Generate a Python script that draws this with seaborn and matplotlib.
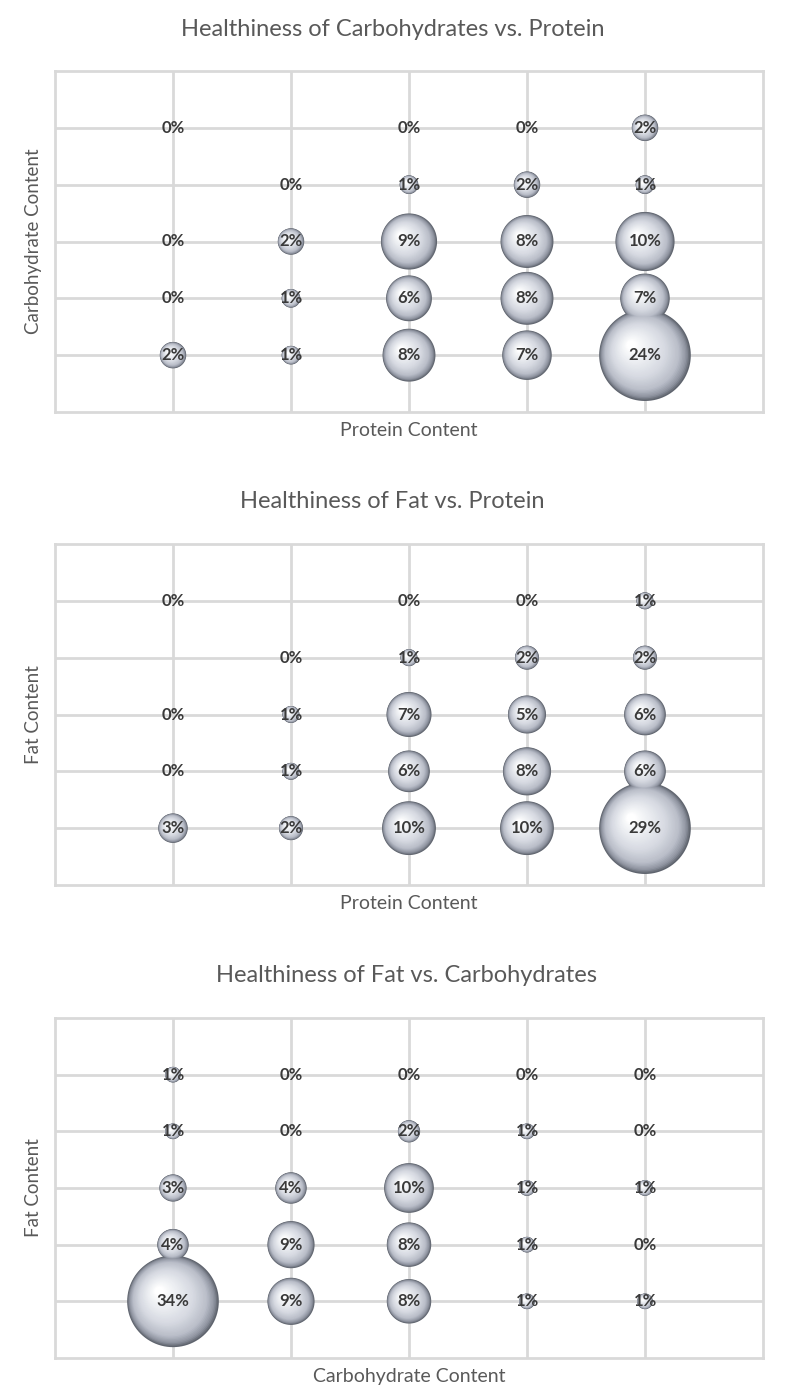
import numpy as np
import pandas as pd
import matplotlib
matplotlib.use("Agg")
import matplotlib.pyplot as plt
from matplotlib.path import Path
from matplotlib.colors import LinearSegmentedColormap
import seaborn as sns

# ---------------- data ----------------
levels = [1, 2, 3, 4, 5]

# rows listed bottom (level 1) to top (level 5); None = no bubble / no label
titles = ["Healthiness of Carbohydrates vs. Protein",
          "Healthiness of Fat vs. Protein",
          "Healthiness of Fat vs. Carbohydrates"]
xlabels = ["Protein Content", "Protein Content", "Carbohydrate Content"]
ylabels = ["Carbohydrate Content", "Fat Content", "Fat Content"]

carb_vs_protein = [
    [2, 1, 8, 7, 24],
    [0, 1, 6, 8, 7],
    [0, 2, 9, 8, 10],
    [None, 0, 1, 2, 1],
    [0, None, 0, 0, 2],
]
fat_vs_protein = [
    [3, 2, 10, 10, 29],
    [0, 1, 6, 8, 6],
    [0, 1, 7, 5, 6],
    [None, 0, 1, 2, 2],
    [0, None, 0, 0, 1],
]
fat_vs_carb = [
    [34, 9, 8, 1, 1],
    [4, 9, 8, 1, 0],
    [3, 4, 10, 1, 1],
    [1, 0, 2, 1, 0],
    [1, 0, 0, 0, 0],
]
panels = [carb_vs_protein, fat_vs_protein, fat_vs_carb]


def to_frame(grid):
    rows = []
    for yi, row in enumerate(grid):
        for xi, v in enumerate(row):
            if v is not None:
                rows.append({"x": levels[xi], "y": levels[yi], "v": v})
    return pd.DataFrame(rows)


# ---------------- style ----------------
sns.set_theme(style="white")
plt.rcParams["font.family"] = ["Lato", "DejaVu Sans"]

W, H = 800, 1395
fig = plt.figure(figsize=(W / 100, H / 100), dpi=100)

grid_col = "#d9d9d9"
text_col = "#595959"
label_col = "#3a3a3a"

theta = np.linspace(0, 2 * np.pi, 97)


def circle_marker(cx, cy, r):
    vx = cx + r * np.cos(theta)
    vy = cy + r * np.sin(theta)
    verts = list(zip(vx, vy)) + [(1, 1), (-1, -1)]
    codes = [Path.MOVETO] + [Path.LINETO] * (len(theta) - 2) + [Path.CLOSEPOLY] \
        + [Path.MOVETO, Path.MOVETO]
    return Path(verts, codes)


# sphere shading layers (offset circles toward the highlight)
N_LAYERS = 40
hl = np.array([-0.30, 0.22])
r_min = 0.10
cmap = LinearSegmentedColormap.from_list(
    "sphere",
    [(0.0, "#5f646e"), (0.07, "#8e939f"), (0.2, "#b9bdc8"),
     (0.45, "#d6d9e1"), (0.75, "#eceef2"), (0.92, "#f8f9fa"), (1.0, "#ffffff")])
layer_markers = []
for k in range(N_LAYERS):
    t = k / (N_LAYERS - 1)
    r = 1 - t * (1 - r_min)
    c = hl * t
    layer_markers.append((circle_marker(c[0], c[1], r), cmap(t)))

MAX_D_PT = 66.0  # diameter of largest bubble in points
S_MAX = MAX_D_PT ** 2

axes_boxes = [(71, 412), (544, 885), (1018, 1358)]
title_y = [30, 502, 975]
title_x = [393, 392, 407]
left_px, right_px = 55, 763

for i, grid in enumerate(panels):
    top, bot = axes_boxes[i]
    ax = fig.add_axes([left_px / W, (H - bot) / H,
                       (right_px - left_px) / W, (bot - top) / H])
    df = to_frame(grid)
    vmax = df["v"].max()
    for path, col in layer_markers:
        sns.scatterplot(data=df, x="x", y="y", size="v",
                        sizes=(0, S_MAX), size_norm=(0, vmax),
                        marker=path, color=col, edgecolor="none",
                        linewidth=0, legend=False, ax=ax, zorder=3)
    for _, r in df.iterrows():
        ax.text(r["x"], r["y"], f"{int(r['v'])}%", ha="center", va="center",
                fontsize=12, fontweight="bold", color=label_col, zorder=5)

    ax.set_xlim(0, 6)
    ax.set_ylim(0, 6)
    ax.set_xticks(levels)
    ax.set_yticks(levels)
    ax.set_xticklabels([])
    ax.set_yticklabels([])
    ax.tick_params(length=0)
    ax.grid(True, color=grid_col, linewidth=2.0)
    ax.set_axisbelow(True)
    for sp in ax.spines.values():
        sp.set_visible(True)
        sp.set_color(grid_col)
        sp.set_linewidth(2.0)
    ax.set_xlabel(xlabels[i], fontsize=14, color=text_col, labelpad=4)
    ax.set_ylabel(ylabels[i], fontsize=13.5, color=text_col, labelpad=6)
    fig.text(title_x[i] / W, 1 - title_y[i] / H, titles[i], ha="center",
             va="center", fontsize=17, color=text_col)

fig.savefig("out.png", dpi=100, facecolor="white")
